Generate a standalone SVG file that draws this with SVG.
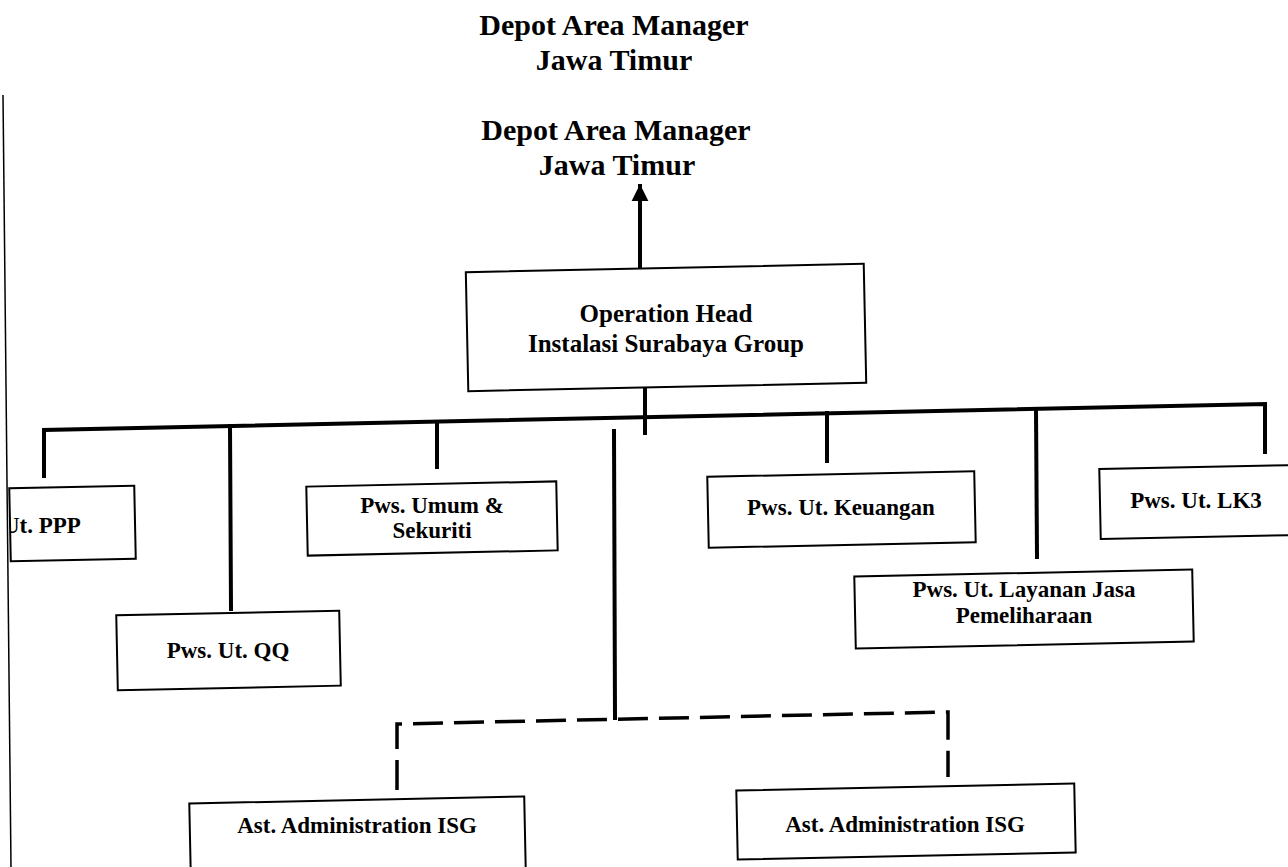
<svg xmlns="http://www.w3.org/2000/svg" width="1288" height="867" viewBox="0 0 1288 867">
<style>
.bg{fill:#fff}
.box{fill:#fff;stroke:#000;stroke-width:2}
.t{font-family:"Liberation Serif","Times New Roman",serif;font-weight:bold;fill:#000;text-anchor:middle}
.title{font-size:30px}
.lbl{font-size:23px}
.big{font-size:25px}
.c{fill:none;stroke:#000;stroke-width:4;stroke-linecap:square}
.d{fill:none;stroke:#000;stroke-width:3.5;stroke-dasharray:30 11}
</style>
<defs>
<marker id="ah" viewBox="0 0 10 10" refX="9" refY="5" markerWidth="4.3" markerHeight="4.3" orient="auto" markerUnits="strokeWidth">
<path d="M0,0 L10,5 L0,10 z" fill="#000"/>
</marker>
<clipPath id="lc"><rect x="10" y="0" width="1278" height="867"/></clipPath>
</defs>
<rect class="bg" width="1288" height="867"/>
<line x1="3" y1="95" x2="11" y2="867" stroke="#000" stroke-width="1.5"/>
<g id="title1">
<text class="t title" x="614" y="35">Depot Area Manager</text>
<text class="t title" x="614" y="70">Jawa Timur</text>
</g>
<g id="title2">
<text class="t title" x="616" y="140">Depot Area Manager</text>
<text class="t title" x="617" y="175">Jawa Timur</text>
</g>
<g id="connectors">
<line class="c" x1="640" y1="268" x2="640" y2="186" marker-end="url(#ah)"/>
<line class="c" x1="645" y1="388" x2="645" y2="433"/>
<path class="c" d="M44,476 L44,430 L1265,404 L1265,452"/>
<line class="c" x1="230" y1="426" x2="231" y2="609"/>
<line class="c" x1="437" y1="422" x2="437" y2="467"/>
<line class="c" x1="827" y1="413" x2="827" y2="461"/>
<line class="c" x1="1036" y1="409" x2="1037" y2="557"/>
<line class="c" x1="614" y1="431" x2="615" y2="718"/>
<path class="d" d="M397,790 L397,724 L948,712 L948,777"/>
</g>
<g id="op-head">
<rect class="box" x="467" y="268" width="398" height="119" transform="rotate(-1.2 666 327)"/>
<text class="t big" x="666" y="322">Operation Head</text>
<text class="t big" x="666" y="352">Instalasi Surabaya Group</text>
</g>
<g id="ppp">
<rect class="box" x="10" y="487" width="125" height="73" transform="rotate(-1.2 72 523)"/>
<text class="t lbl" x="3" y="533" style="text-anchor:start" clip-path="url(#lc)">Ut. PPP</text>
</g>
<g id="umum">
<rect class="box" x="307" y="484" width="250" height="69" transform="rotate(-1.2 432 519)"/>
<text class="t lbl" x="432" y="513">Pws. Umum &amp;</text>
<text class="t lbl" x="432" y="538">Sekuriti</text>
</g>
<g id="qq">
<rect class="box" x="117" y="613" width="223" height="75" transform="rotate(-1.2 228 650)"/>
<text class="t lbl" x="228" y="658">Pws. Ut. QQ</text>
</g>
<g id="keuangan">
<rect class="box" x="708" y="474" width="267" height="71" transform="rotate(-1.2 841 510)"/>
<text class="t lbl" x="841" y="515">Pws. Ut. Keuangan</text>
</g>
<g id="lk3">
<rect class="box" x="1100" y="467" width="200" height="70" transform="rotate(-1.2 1200 502)"/>
<text class="t lbl" x="1196" y="508">Pws. Ut. LK3</text>
</g>
<g id="layanan">
<rect class="box" x="855" y="573" width="338" height="72" transform="rotate(-1.2 1024 609)"/>
<text class="t lbl" x="1024" y="597">Pws. Ut. Layanan Jasa</text>
<text class="t lbl" x="1024" y="623">Pemeliharaan</text>
</g>
<g id="ast-left">
<rect class="box" x="190" y="800" width="335" height="72" transform="rotate(-1.2 357 836)"/>
<text class="t lbl" x="357" y="833">Ast. Administration ISG</text>
</g>
<g id="ast-right">
<rect class="box" x="737" y="787" width="338" height="69" transform="rotate(-1.2 906 822)"/>
<text class="t lbl" x="905" y="832">Ast. Administration ISG</text>
</g>
</svg>
